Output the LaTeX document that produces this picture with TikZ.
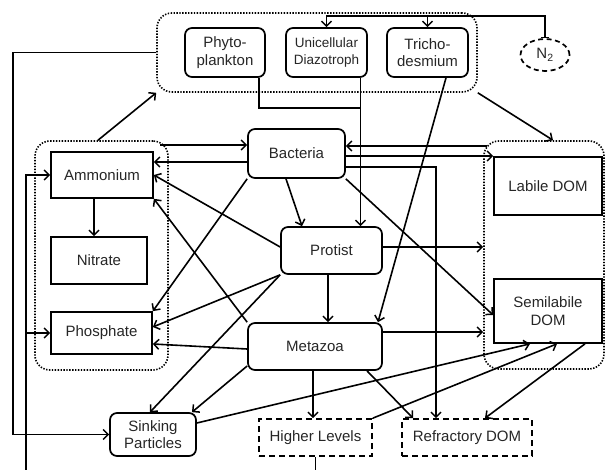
\documentclass[tikz,border=0pt]{standalone}
\usepackage{fontspec}
\setmainfont{Liberation Sans}
\usetikzlibrary{arrows.meta,shapes.geometric,calc}
\begin{document}
\begin{tikzpicture}[x=1pt,y=-1pt,
  every node/.style={inner sep=0pt, text=black!85, font=\fontsize{15}{17.5}\selectfont, align=center},
  rbox/.style={draw, line width=1.7pt, rounded corners=7pt},
  sbox/.style={draw, line width=1.7pt},
  dbox/.style={draw, line width=1.7pt, dash pattern=on 6pt off 4pt},
  grp/.style={draw, line width=1.6pt, dash pattern=on 1.4pt off 1.5pt, rounded corners=15pt},
  conn/.style={line width=1.6pt, -{Straight Barb[length=5pt,width=10pt,line width=1.5pt]}},
  plain/.style={line width=1.6pt}
]
\useasboundingbox (0,0) rectangle (605,470);

% groups
\node[grp, minimum width=320, minimum height=79] (topgrp) at (317,52.5) {};
\node[grp, minimum width=133, minimum height=229] (leftgrp) at (101.5,255.5) {};
\node[grp, minimum width=120, minimum height=228] (rightgrp) at (544,255) {};

% top nodes
\node[rbox, minimum width=80, minimum height=49] (phyto) at (225,52.5) {Phyto-\\plankton};
\node[rbox, minimum width=81, minimum height=49, font=\fontsize{13.5}{16.5}\selectfont] (uni) at (326.5,52.5) {Unicellular\\Diazotroph};
\node[rbox, minimum width=81, minimum height=49] (tricho) at (427.5,52.5) {Tricho-\\desmium};
\node[draw, ellipse, line width=1.7pt, dash pattern=on 5pt off 3.5pt, minimum width=49, minimum height=32] (n2) at (545,55) {N\textsubscript{2}};

% left nodes
\node[sbox, minimum width=102, minimum height=46] (amm) at (102,175) {Ammonium};
\node[sbox, minimum width=96, minimum height=47] (nit) at (99,260.5) {Nitrate};
\node[sbox, minimum width=101, minimum height=42] (phos) at (101.5,333) {Phosphate};

% middle nodes
\node[rbox, minimum width=97, minimum height=49] (bact) at (296.5,153.5) {Bacteria};
\node[rbox, minimum width=101, minimum height=47] (prot) at (331.5,250.5) {Protist};
\node[rbox, minimum width=134, minimum height=47] (meta) at (315,346.5) {Metazoa};

% right nodes
\node[sbox, minimum width=108, minimum height=58] (lab) at (548,186) {Labile DOM};
\node[sbox, minimum width=108, minimum height=64] (semi) at (548,311) {Semilabile\\DOM};

% bottom nodes
\node[rbox, minimum width=86, minimum height=43] (sink) at (153,434.5) {Sinking\\Particles};
\node[dbox, minimum width=113, minimum height=37] (high) at (315.5,437.5) {Higher Levels};
\node[dbox, minimum width=130, minimum height=37] (refr) at (467,437.5) {Refractory DOM};

% helper coordinates
\coordinate (ntop) at (545,16);
\coordinate (ux) at (360.5,0);
\coordinate (px) at (259,108);
\coordinate (lx) at (13,0);
\coordinate (bl) at (26,470);
\coordinate (bh) at (315.5,470);
\coordinate (rx) at (436,0);

% N2 fixation
\draw[plain, {Bar[width=8pt,line width=1.5pt]}-{Straight Barb[length=5pt,width=10pt,line width=1.5pt]}] (n2.north) -- (ntop) -| (uni.north);
\draw[conn] (tricho.north |- ntop) -- (tricho.north);

% phyto & unicellular to protist
\draw[plain] (phyto.south -| px) -- (px) -- (px -| ux);
\draw[conn] (uni.south -| ux) -- (prot.north -| ux);
\draw[conn] (tricho.south -| 446,0) -- (meta.north -| 378,0);

% group links
\draw[conn] (topgrp.south east) -- (rightgrp.north -| 553,0);
\draw[conn] (leftgrp.north -| 98,0) -- (topgrp.south west);
\draw[conn] (topgrp.west) -| (lx |- sink.west) -- (sink.west);
\draw[conn] (bl) |- (amm.west);
\draw[conn] (bl |- phos.west) -- (phos.west);
\draw[plain] (high.south) -- (bh);

% left group
\draw[conn] (amm.south -| 94,0) -- (nit.north -| 94,0);
\draw[conn] (160,145) -- (bact.west |- 0,145);
\draw[conn] (bact.west |- 0,162) -- (amm.east |- 0,162);
\draw[conn] (prot.west |- 0,247) -- (amm.east |- 0,175);
\draw[conn] (meta.north west) -- (amm.south east);
\draw[conn] (bact.south west) -- (phos.north east);
\draw[conn] (prot.south west) -- (phos.east |- 0,327);
\draw[conn] (meta.west |- 0,349) -- (phos.east |- 0,344);

% middle
\draw[conn] (bact.south -| 286,0) -- (prot.north -| 302,0);
\draw[conn] (prot.south -| 328,0) -- (meta.north -| 328,0);
\draw[conn] (487,146) -- (bact.east |- 0,146);
\draw[conn] (bact.east |- 0,156) -- (lab.west |- 0,156);
\draw[conn] (bact.east |- 0,167) -| (refr.north -| rx);
\draw[conn] (prot.east |- 0,247) -- (rightgrp.west |- 0,247);
\draw[conn] (bact.south east) -- (semi.west |- 0,315);
\draw[conn] (meta.east |- 0,332) -- (rightgrp.west |- 0,332);

% bottom
\draw[conn] (meta.south -| 313,0) -- (high.north -| 313,0);
\draw[conn] (meta.south -| 367,0) -- (refr.north -| 413,0);
\draw[conn] (semi.south -| 585,0) -- (refr.north -| 485,0);
\draw[conn] (high.north east) -- (semi.south -| 557,0);
\draw[conn] (sink.east |- 0,423) -- (semi.south -| 530,0);
\draw[conn] (prot.south west) -- (sink.north -| 150,0);
\draw[conn] (meta.west |- 0,366) -- (sink.north -| 192,0);
\end{tikzpicture}
\end{document}
